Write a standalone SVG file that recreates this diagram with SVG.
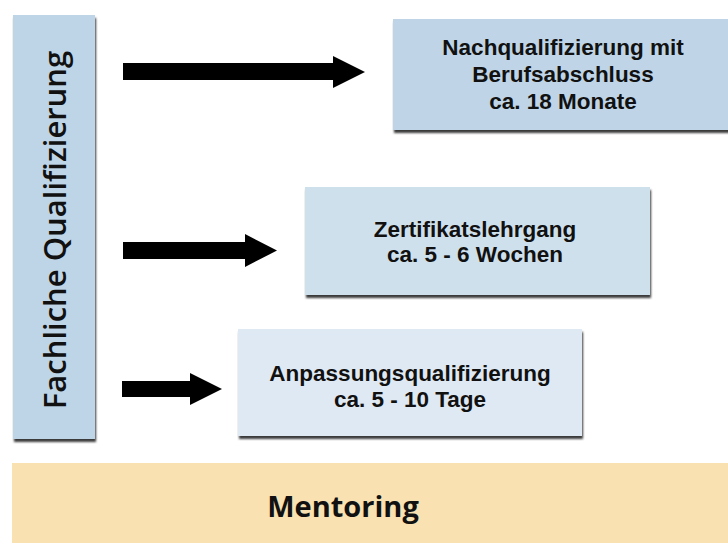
<svg xmlns="http://www.w3.org/2000/svg" width="728" height="543" viewBox="0 0 728 543">
<defs>
<filter id="sh" x="-5%" y="-5%" width="110%" height="120%">
<feGaussianBlur stdDeviation="0.8"/>
</filter>
</defs>
<style>
.t{font-family:"Liberation Sans",Arial,sans-serif;font-weight:700;font-size:22.5px;fill:#111;text-anchor:middle}
.o{font-family:"Open Sans","Liberation Sans",sans-serif;fill:#111;text-anchor:middle}
.shadow{fill:#3a3a3a;filter:url(#sh)}
.arrow{fill:#000}
</style>
<rect width="728" height="543" fill="#fff"/>
<g id="fachliche">
<rect class="shadow" x="14" y="18" width="82" height="424"/>
<rect x="13" y="15" width="82" height="424" fill="#bed5e7"/>
<text class="o" style="font-size:31px;font-weight:600" transform="translate(66,230) rotate(-90)">Fachliche Qualifizierung</text>
</g>
<g id="nachqualifizierung">
<rect class="shadow" x="394" y="22" width="340" height="111"/>
<rect x="393" y="19" width="340" height="111" fill="#bfd5e7"/>
<text class="t" x="563" y="55">Nachqualifizierung mit</text>
<text class="t" x="563" y="82">Berufsabschluss</text>
<text class="t" x="563" y="109">ca. 18 Monate</text>
</g>
<g id="zertifikat">
<rect class="shadow" x="306" y="190" width="345" height="108"/>
<rect x="305" y="187" width="345" height="108" fill="#cfe0ed"/>
<text class="t" x="475" y="236.5">Zertifikatslehrgang</text>
<text class="t" x="475" y="262">ca. 5 - 6 Wochen</text>
</g>
<g id="anpassung">
<rect class="shadow" x="239" y="332" width="344" height="107"/>
<rect x="238" y="329" width="344" height="107" fill="#dfe9f3"/>
<text class="t" x="410" y="381">Anpassungsqualifizierung</text>
<text class="t" x="410" y="407">ca. 5 - 10 Tage</text>
</g>
<g id="mentoring">
<rect x="12" y="463" width="720" height="85" fill="#f9e1b2"/>
<text class="o" style="font-size:29px;font-weight:700" x="343" y="517">Mentoring</text>
</g>
<g id="connectors">
<polygon class="arrow" points="123,63 333,63 333,56 365,72 333,88 333,80 123,80"/>
<polygon class="arrow" points="123,242 245,242 245,234 277,250.5 245,267 245,259 123,259"/>
<polygon class="arrow" points="122,381 190,381 190,373 222,389 190,405 190,397 122,397"/>
</g>
</svg>
